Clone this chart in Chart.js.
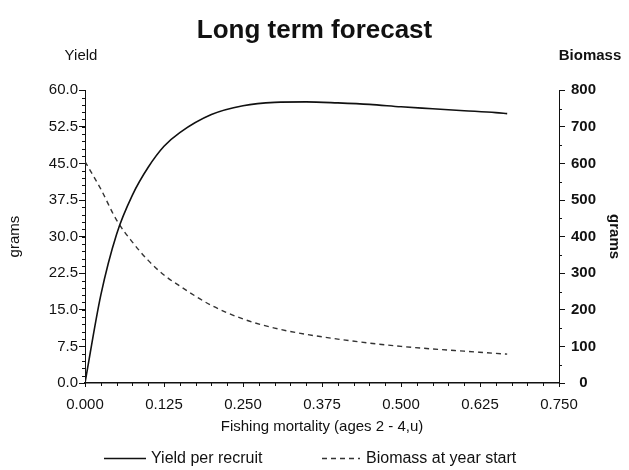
<!DOCTYPE html>
<html lang="en">
<head>
<meta charset="UTF-8">
<title>Long term forecast</title>
<script src="https://cdn.jsdelivr.net/npm/chart.js@4.4.1/dist/chart.umd.min.js"></script>
<style>
  html, body { margin: 0; padding: 0; background: #fff; }
  #wrap { width: 629px; height: 470px; }
</style>
</head>
<body>
<div id="wrap"><canvas id="forecast"></canvas></div>
<script>
// fishing mortality (x) and the two curves
var mortality = [0, 0.025, 0.05, 0.075, 0.1, 0.125, 0.15, 0.2, 0.25, 0.3, 0.35, 0.4, 0.45, 0.5, 0.55, 0.6, 0.65, 0.668];
var yieldPerRecruit = [0, 18, 30.5, 38.5, 44.2, 48.5, 51.3, 55, 56.8, 57.5, 57.6, 57.4, 57.1, 56.6, 56.2, 55.8, 55.4, 55.2];
var biomassStart = [605, 530, 445, 385, 335, 295, 265, 212, 175, 150, 133, 120, 109, 100, 93, 87, 81, 79];

var xTicks = [0, 0.125, 0.25, 0.375, 0.5, 0.625, 0.75];
var yieldTicks = [0, 7.5, 15, 22.5, 30, 37.5, 45, 52.5, 60];
var biomassTicks = [0, 100, 200, 300, 400, 500, 600, 700, 800];

var FONT = "'Liberation Sans', Arial, sans-serif";
var INK = '#111';

function pairs(xs, ys) {
    return xs.map(function (x, i) { return {x: x, y: ys[i]}; });
}

// small ticks between the labelled ones, headings over the axes and the legend
var axisExtras = {
    id: 'axisExtras',
    afterDraw: function (chart) {
        var c = chart.ctx, s = chart.scales, a = chart.chartArea;
        c.save();
        c.strokeStyle = INK;
        c.lineWidth = 1;
        c.beginPath();
        for (var v = 0; v <= 60.001; v += 1.5) {
            var py = Math.round(s.y.getPixelForValue(v)) + 0.5;
            c.moveTo(a.left - 3, py); c.lineTo(a.left, py);
        }
        for (var b = 50; b < 800; b += 100) {
            var pb = Math.round(s.y2.getPixelForValue(b)) + 0.5;
            c.moveTo(a.right, pb); c.lineTo(a.right + 3, pb);
        }
        for (var m = 0; m <= 0.7501; m += 0.025) {
            var px = Math.round(s.x.getPixelForValue(m)) + 0.5;
            c.moveTo(px, a.bottom); c.lineTo(px, a.bottom + 3);
        }
        c.stroke();

        c.fillStyle = INK;
        c.textBaseline = 'middle';
        c.textAlign = 'center';
        c.font = '15px ' + FONT;
        c.fillText('Yield', 81, 56);
        c.font = 'bold 15px ' + FONT;
        c.fillText('Biomass', 590, 56);

        // legend
        var ly = 458;
        var ds = chart.data.datasets;
        var items = [{x0: 104, x1: 146, tx: 151}, {x0: 322, x1: 360, tx: 366}];
        c.font = '16px ' + FONT;
        c.textAlign = 'left';
        items.forEach(function (it, i) {
            c.beginPath();
            c.setLineDash(ds[i].borderDash || []);
            c.strokeStyle = ds[i].borderColor;
            c.lineWidth = ds[i].borderWidth;
            c.moveTo(it.x0, ly + 0.5);
            c.lineTo(it.x1, ly + 0.5);
            c.stroke();
            c.setLineDash([]);
            c.fillText(ds[i].label, it.tx, ly + 1);
        });
        c.restore();
    }
};

var ctx = document.getElementById('forecast');

var chart = new Chart(ctx, {
    type: 'line',
    data: {
        datasets: [{
            label: 'Yield per recruit',
            data: pairs(mortality, yieldPerRecruit),
            yAxisID: 'y',
            borderColor: INK,
            borderWidth: 1.6,
            pointRadius: 0,
            cubicInterpolationMode: 'monotone'
        }, {
            label: 'Biomass at year start',
            data: pairs(mortality, biomassStart),
            yAxisID: 'y2',
            borderColor: '#333',
            borderWidth: 1.4,
            borderDash: [5, 4],
            pointRadius: 0,
            cubicInterpolationMode: 'monotone'
        }]
    },
    options: {
        responsive: true,
        maintainAspectRatio: false,
        animation: false,
        layout: { padding: { top: 0, left: 0, right: 0, bottom: 26 } },
        plugins: {
            title: {
                display: true,
                text: 'Long term forecast',
                color: INK,
                font: { family: FONT, size: 26, weight: 'bold' },
                padding: { top: 15, bottom: 44 }
            },
            legend: { display: false },
            tooltip: { enabled: false }
        },
        scales: {
            x: {
                type: 'linear',
                min: 0,
                max: 0.75,
                afterBuildTicks: function (s) { s.ticks = xTicks.map(function (v) { return {value: v}; }); },
                afterFit: function (s) { s.height = 61; },
                border: { color: INK, width: 1.5 },
                grid: { drawOnChartArea: false, tickLength: 4, color: INK },
                ticks: {
                    color: INK,
                    padding: 9,
                    maxRotation: 0,
                    font: { family: FONT, size: 15 },
                    callback: function (v) { return v.toFixed(3); }
                },
                title: {
                    display: true,
                    text: 'Fishing mortality (ages 2 - 4,u)',
                    color: INK,
                    font: { family: FONT, size: 15 },
                    padding: { top: 0, bottom: 8 }
                }
            },
            y: {
                position: 'left',
                min: 0,
                max: 60,
                afterBuildTicks: function (s) { s.ticks = yieldTicks.map(function (v) { return {value: v}; }); },
                afterFit: function (s) { s.width = 85; },
                border: { color: INK, width: 1 },
                grid: { drawOnChartArea: false, tickLength: 6, color: INK },
                ticks: {
                    color: INK,
                    padding: 1,
                    font: { family: FONT, size: 15 },
                    callback: function (v) { return v.toFixed(1); }
                },
                title: {
                    display: true,
                    text: 'grams',
                    color: INK,
                    font: { family: FONT, size: 15 },
                    padding: { top: 6, bottom: 0 }
                }
            },
            y2: {
                position: 'right',
                min: 0,
                max: 800,
                afterBuildTicks: function (s) { s.ticks = biomassTicks.map(function (v) { return {value: v}; }); },
                afterFit: function (s) { s.width = 70; },
                border: { color: INK, width: 1 },
                grid: { drawOnChartArea: false, tickLength: 6, color: INK },
                ticks: {
                    color: INK,
                    padding: 6,
                    crossAlign: 'center',
                    font: { family: FONT, size: 15, weight: 'bold' },
                    callback: function (v) { return String(v); }
                },
                title: {
                    display: true,
                    text: 'grams',
                    color: INK,
                    font: { family: FONT, size: 15, weight: 'bold' },
                    padding: { top: 6, bottom: 0 }
                }
            }
        }
    },
    plugins: [axisExtras]
});
</script>
</body>
</html>
